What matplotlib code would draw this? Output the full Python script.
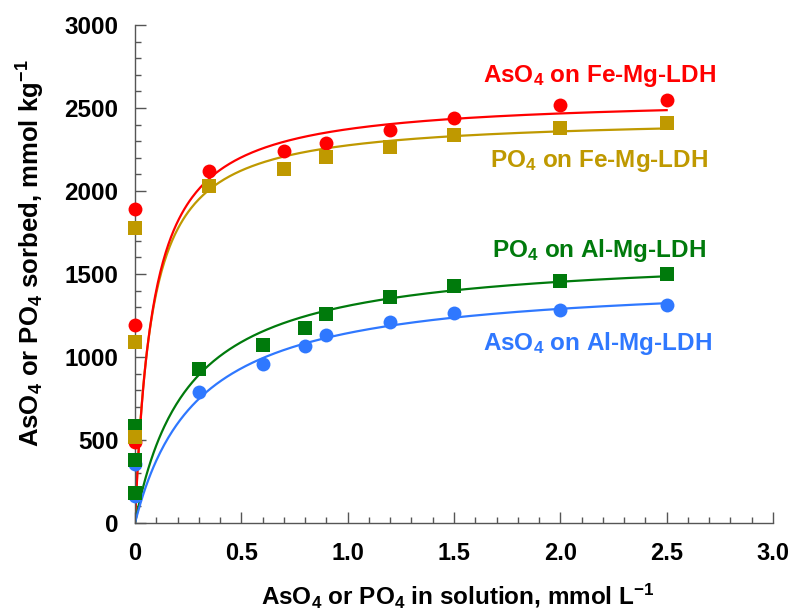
import numpy as np
import matplotlib
matplotlib.use("Agg")
import matplotlib.pyplot as plt
from matplotlib.ticker import MultipleLocator, FixedLocator

plt.rcParams['font.family'] = ['Liberation Sans', 'DejaVu Sans']
plt.rcParams['font.weight'] = 'bold'
plt.rcParams['mathtext.fontset'] = 'custom'
plt.rcParams['mathtext.rm'] = 'Liberation Sans:bold'
plt.rcParams['mathtext.bf'] = 'Liberation Sans:bold'
plt.rcParams['mathtext.default'] = 'bf'

# measured points, mmol/L in solution vs mmol/kg sorbed
fe_x = [0, 0, 0, 0.35, 0.7, 0.9, 1.2, 1.5, 2.0, 2.5]
as_fe = [490, 1190, 1890, 2120, 2240, 2290, 2365, 2440, 2520, 2550]
p_fe = [520, 1090, 1780, 2030, 2130, 2205, 2265, 2340, 2380, 2410]

al_x = [0, 0, 0, 0.3, 0.6, 0.8, 0.9, 1.2, 1.5, 2.0, 2.5]
p_al = [180, 380, 585, 930, 1070, 1175, 1260, 1360, 1430, 1460, 1500]
as_al_x = [0, 0, 0.3, 0.6, 0.8, 0.9, 1.2, 1.5, 2.0, 2.5]
as_al = [165, 355, 790, 955, 1065, 1135, 1210, 1265, 1285, 1315]

# Langmuir fit parameters (Qmax, K) for the drawn isotherms
fit_as_fe = (2570, 12.0)
fit_p_fe = (2450, 13.0)
fit_p_al = (1635, 4.0)
fit_as_al = (1480, 3.4)

red = '#ff0000'
gold = '#bf9900'
green = '#007a0c'
blue = '#2f78ff'


def langmuir(c, qmax, k):
    return qmax * k * c / (1 + k * c)


fig = plt.figure(figsize=(7.91, 6.11), dpi=100)
ax = fig.add_axes([135/791, 1-523/611, 638/791, 498/611])

c = np.linspace(0, 2.5, 400)
ax.plot(c, langmuir(c, *fit_p_fe), color=gold, lw=1.6)
ax.plot(c, langmuir(c, *fit_as_fe), color=red, lw=1.6)
ax.plot(c, langmuir(c, *fit_p_al), color=green, lw=1.6)
ax.plot(c, langmuir(c, *fit_as_al), color=blue, lw=1.6)

ax.plot(fe_x, as_fe, 'o', color=red, ms=10, mew=0, clip_on=False, zorder=3)
ax.plot(as_al_x, as_al, 'o', color=blue, ms=10, mew=0, clip_on=False, zorder=3)
ax.plot(al_x, p_al, 's', color=green, ms=10.5, mew=0, clip_on=False, zorder=3)
ax.plot(fe_x, p_fe, 's', color=gold, ms=10.5, mew=0, clip_on=False, zorder=3)

lab = dict(fontsize=17.5, fontweight='bold')
ax.text(1.636, 2657, r'AsO$_4$ on Fe-Mg-LDH', color=red, **lab)
ax.text(1.669, 2145, r'PO$_4$ on Fe-Mg-LDH', color=gold, **lab)
ax.text(1.678, 1602, r'PO$_4$ on Al-Mg-LDH', color=green, **lab)
ax.text(1.636, 1042, r'AsO$_4$ on Al-Mg-LDH', color=blue, **lab)

ax.set_xlim(0, 3.0)
ax.set_ylim(0, 3000)
ax.xaxis.set_major_locator(FixedLocator([0, 0.5, 1.0, 1.5, 2.0, 2.5, 3.0]))
ax.set_xticklabels(['0', '0.5', '1.0', '1.5', '2.0', '2.5', '3.0'])
ax.xaxis.set_minor_locator(MultipleLocator(0.1))
ax.yaxis.set_major_locator(MultipleLocator(500))
ax.yaxis.set_minor_locator(MultipleLocator(100))

for s in ['top', 'right']:
    ax.spines[s].set_visible(False)
for s in ['left', 'bottom']:
    ax.spines[s].set_color('#555555')
    ax.spines[s].set_linewidth(1.0)

ax.tick_params(which='both', direction='in', color='#555555', width=1.0)
ax.tick_params(which='major', length=8)
ax.tick_params(which='minor', length=4.5)
ax.tick_params(axis='x', which='major', pad=14, labelsize=17)
ax.tick_params(axis='y', which='major', pad=12, labelsize=17.5)

ax.set_xlabel(r'AsO$_4$ or PO$_4$ in solution, mmol L$^{-1}$', fontsize=17.5, fontweight='bold')
ax.set_ylabel(r'AsO$_4$ or PO$_4$ sorbed, mmol kg$^{-1}$', fontsize=18.5, fontweight='bold')
ax.xaxis.set_label_coords(0.506, -0.116)
ax.yaxis.set_label_coords(-0.138, 0.541)

fig.savefig('out.png', dpi=100)
